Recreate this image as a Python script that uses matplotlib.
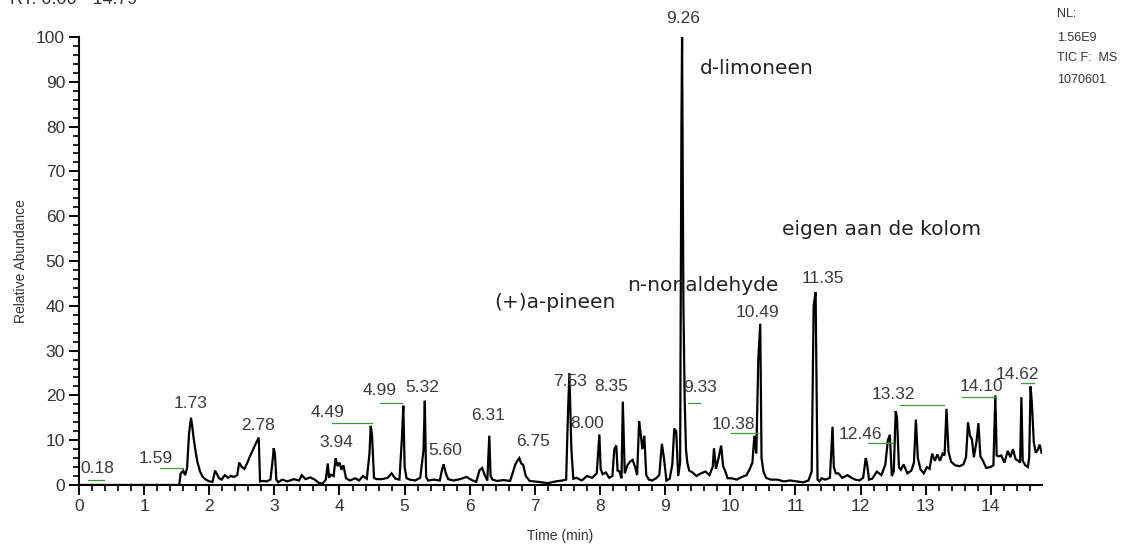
import matplotlib.pyplot as plt
from matplotlib.ticker import MultipleLocator

# TIC trace, retention time (min) vs relative abundance (%)
rt = [
    0.00, 1.54, 1.56, 1.60, 1.63, 1.66, 1.69, 1.72, 1.74, 1.76, 1.79, 1.82,
    1.86, 1.90, 1.95, 2.00, 2.05, 2.09, 2.12, 2.15, 2.19, 2.24, 2.29, 2.33,
    2.38, 2.43, 2.46, 2.50, 2.54, 2.58, 2.62, 2.66, 2.70, 2.74, 2.76, 2.78,
    2.82, 2.88, 2.94, 2.97, 2.99, 3.01, 3.03, 3.06, 3.12, 3.20, 3.30, 3.38,
    3.42, 3.48, 3.55, 3.62, 3.68, 3.74, 3.79, 3.82, 3.84, 3.87, 3.91, 3.94,
    3.97, 4.00, 4.03, 4.06, 4.10, 4.16, 4.24, 4.30, 4.36, 4.42, 4.46, 4.48,
    4.50, 4.53, 4.57, 4.65, 4.74, 4.80, 4.86, 4.92, 4.96, 4.98, 5.00, 5.03,
    5.08, 5.16, 5.24, 5.29, 5.31, 5.33, 5.36, 5.45, 5.54, 5.58, 5.60, 5.63,
    5.67, 5.75, 5.85, 5.95, 6.03, 6.10, 6.15, 6.19, 6.23, 6.27, 6.30, 6.32,
    6.35, 6.42, 6.52, 6.62, 6.67, 6.70, 6.73, 6.76, 6.79, 6.82, 6.86, 6.92,
    7.05, 7.20, 7.32, 7.42, 7.48, 7.51, 7.53, 7.56, 7.59, 7.64, 7.72, 7.80,
    7.88, 7.95, 7.99, 8.01, 8.04, 8.09, 8.14, 8.19, 8.22, 8.25, 8.27, 8.30,
    8.33, 8.35, 8.38, 8.42, 8.46, 8.50, 8.54, 8.57, 8.60, 8.62, 8.65, 8.68,
    8.71, 8.75, 8.80, 8.86, 8.91, 8.95, 8.98, 9.02, 9.07, 9.11, 9.14, 9.17,
    9.20, 9.23, 9.25, 9.26, 9.28, 9.30, 9.32, 9.34, 9.37, 9.42, 9.48, 9.55,
    9.62, 9.68, 9.73, 9.75, 9.78, 9.82, 9.86, 9.89, 9.92, 9.96, 10.02, 10.10,
    10.18, 10.25, 10.30, 10.34, 10.37, 10.40, 10.43, 10.46, 10.48, 10.51, 10.55,
    10.62, 10.72, 10.82, 10.92, 11.02, 11.12, 11.20, 11.25, 11.28, 11.31, 11.34,
    11.37, 11.40, 11.46, 11.53, 11.57, 11.59, 11.62, 11.66, 11.72, 11.80, 11.86,
    11.92, 11.98, 12.04, 12.08, 12.10, 12.13, 12.18, 12.25, 12.32, 12.38, 12.42,
    12.45, 12.48, 12.51, 12.54, 12.56, 12.59, 12.62, 12.66, 12.72, 12.78, 12.82,
    12.85, 12.88, 12.92, 12.97, 13.02, 13.06, 13.10, 13.14, 13.18, 13.22, 13.26,
    13.29, 13.32, 13.35, 13.39, 13.45, 13.52, 13.58, 13.62, 13.65, 13.68, 13.71,
    13.74, 13.78, 13.81, 13.84, 13.88, 13.93, 13.99, 14.04, 14.07, 14.09, 14.12,
    14.16, 14.21, 14.26, 14.30, 14.34, 14.38, 14.42, 14.45, 14.47, 14.49, 14.53,
    14.57, 14.59, 14.61, 14.63, 14.66, 14.69, 14.72, 14.75, 14.78,
]
abundance = [
    0.0, 0.0, 2.5, 3.2, 2.2, 3.8, 11.5, 15.0, 13.0, 10.5, 7.5, 5.0,
    3.0, 1.8, 1.2, 0.8, 0.7, 3.2, 2.4, 1.5, 1.2, 2.2, 1.6, 2.0,
    1.8, 2.2, 5.0, 4.0, 3.6, 4.8, 6.2, 7.5, 8.8, 10.0, 10.6, 0.8,
    0.9, 0.8, 1.2, 5.0, 8.2, 6.8, 1.2, 0.6, 1.2, 0.8, 1.3, 1.0,
    2.2, 1.3, 1.7, 1.2, 0.5, 0.3, 1.2, 4.8, 1.6, 2.3, 2.0, 6.0,
    4.2, 5.0, 3.4, 4.4, 1.5, 1.0, 1.5, 1.0, 2.0, 1.4, 7.0, 13.2,
    11.0, 1.6, 1.3, 1.3, 1.6, 2.6, 1.4, 1.2, 10.8, 17.7, 4.0, 1.5,
    1.2, 1.0, 1.6, 7.8, 18.8, 1.8, 1.0, 1.2, 1.0, 3.8, 4.6, 2.7,
    1.3, 1.0, 1.3, 1.8, 1.1, 0.7, 3.3, 3.8, 2.2, 1.0, 11.0, 2.0,
    1.2, 0.9, 1.1, 0.9, 3.2, 4.6, 5.4, 6.0, 4.8, 4.5, 2.0, 0.9,
    0.7, 0.4, 0.8, 1.0, 1.2, 17.0, 25.0, 8.0, 1.4, 1.6, 1.0, 2.0,
    1.6, 2.6, 11.3, 3.6, 2.4, 2.8, 1.6, 2.0, 8.0, 8.8, 3.2, 3.0,
    1.5, 18.6, 2.6, 4.4, 5.2, 5.6, 4.0, 2.2, 14.2, 12.0, 8.0, 11.0,
    2.2, 1.2, 1.0, 1.5, 2.2, 9.2, 6.2, 1.0, 1.4, 4.6, 12.6, 12.0,
    2.0, 5.0, 80.0, 100.0, 41.0, 19.0, 8.0, 5.0, 3.2, 2.8, 2.0, 2.6,
    3.0, 2.2, 4.0, 8.2, 3.6, 6.0, 8.8, 4.2, 3.2, 1.5, 1.5, 1.2,
    1.8, 2.2, 3.6, 5.0, 11.0, 7.0, 28.0, 36.0, 6.0, 3.0, 1.6,
    1.2, 1.2, 0.8, 1.0, 0.8, 0.6, 1.0, 3.0, 40.0, 43.0, 1.2,
    0.8, 1.5, 1.2, 1.6, 13.0, 4.0, 2.6, 2.6, 1.6, 2.2, 1.6,
    1.2, 1.0, 1.6, 6.0, 4.8, 1.2, 1.4, 3.0, 2.2, 4.5, 10.0,
    11.2, 2.0, 3.0, 16.5, 15.0, 4.0, 3.4, 4.6, 2.6, 3.2, 5.0,
    14.6, 6.0, 3.5, 2.6, 4.0, 3.6, 7.0, 5.4, 6.8, 5.4, 7.0,
    6.6, 17.0, 7.5, 5.2, 4.4, 4.2, 4.6, 6.2, 14.0, 11.0, 10.2,
    6.2, 9.6, 13.8, 6.4, 5.4, 3.8, 4.0, 4.4, 20.0, 6.6, 6.4,
    6.6, 5.0, 7.6, 6.2, 8.0, 5.8, 5.4, 5.0, 19.6, 5.4, 4.4,
    4.0, 6.2, 22.0, 18.5, 9.6, 7.2, 7.8, 9.0, 7.2,
]

# peak labels: text, (rt, abundance) where the label sits
peak_labels = ["0.18", "1.59", "1.73", "2.78", "3.94", "4.49", "4.99", "5.32",
               "5.60", "6.31", "6.75", "7.53", "8.00", "8.35", "9.26", "9.33",
               "10.38", "10.49", "11.35", "12.46", "13.32", "14.10", "14.62"]
label_rt = [0.28, 1.18, 1.72, 2.75, 3.95, 3.81, 4.61, 5.27,
            5.62, 6.28, 6.97, 7.54, 7.80, 8.17, 9.27, 9.53,
            10.04, 10.41, 11.42, 11.99, 12.50, 13.86, 14.41]
label_y = [3.6, 6.0, 18.3, 13.2, 9.4, 16.1, 21.2, 21.7,
           7.6, 15.6, 9.6, 23.2, 13.8, 21.9, 104.2, 21.7,
           13.4, 38.6, 46.2, 11.2, 20.1, 21.9, 24.6]

# green connector lines under some of the labels: (rt start, rt end, abundance)
connector_start = [0.14, 1.24, 3.88, 4.62, 9.35, 10.01, 12.11, 12.60, 13.56, 14.46]
connector_end = [0.38, 1.60, 4.50, 4.96, 9.53, 10.42, 12.50, 13.28, 14.08, 14.66]
connector_y = [1.1, 3.8, 13.8, 18.3, 18.3, 11.6, 9.4, 17.9, 19.6, 22.8]

# compound names
compounds = ["d-limoneen", "(+)a-pineen", "n-nonaldehyde", "eigen aan de kolom"]
compound_rt = [9.54, 6.37, 8.42, 10.80]
compound_y = [93.0, 40.8, 44.6, 57.0]

fig = plt.figure(figsize=(11.33, 5.49), dpi=100)
ax = fig.add_axes([0.0697, 0.1166, 0.8502, 0.816])

ax.plot(rt, abundance, color="black", lw=1.6, solid_joinstyle="miter")

for txt, x, y in zip(peak_labels, label_rt, label_y):
    ax.text(x, y, txt, ha="center", va="center", fontsize=12.5,
            family="Liberation Sans", color="#3a3a3a", clip_on=False)

for x0, x1, y in zip(connector_start, connector_end, connector_y):
    ax.plot([x0, x1], [y, y], color="#3c9a3c", lw=0.9)

for txt, x, y in zip(compounds, compound_rt, compound_y):
    ax.text(x, y, txt, ha="left", va="center", fontsize=14.5,
            family="DejaVu Sans", color="#222222")

ax.set_xlim(0, 14.79)
ax.set_ylim(0, 100)
ax.xaxis.set_major_locator(MultipleLocator(1))
ax.xaxis.set_minor_locator(MultipleLocator(0.2))
ax.yaxis.set_major_locator(MultipleLocator(10))
ax.yaxis.set_minor_locator(MultipleLocator(2))
ax.tick_params(which="major", length=7, width=1.4, direction="out",
               labelsize=12.5, labelcolor="#333333", pad=3)
ax.tick_params(which="minor", length=4.5, width=1.2, direction="out")
for lab in ax.get_xticklabels() + ax.get_yticklabels():
    lab.set_family("Liberation Sans")

for side in ("top", "right"):
    ax.spines[side].set_visible(False)
for side in ("left", "bottom"):
    ax.spines[side].set_linewidth(1.5)

ax.set_xlabel("Time (min)", fontsize=10, family="Liberation Sans",
              color="#333333", labelpad=11)
ax.set_ylabel("Relative Abundance", fontsize=10, family="Liberation Sans",
              color="#333333", labelpad=6)

fig.text(0.009, 0.993, "RT: 0.00 - 14.79", fontsize=13, family="Liberation Sans",
         color="#333333", va="baseline")

info = ["NL:", "1.56E9", "TIC F:  MS", "1070601"]
info_y = [0.974, 0.931, 0.894, 0.854]
for txt, y in zip(info, info_y):
    fig.text(0.933, y, txt, fontsize=9, family="Liberation Sans",
             color="#333333", va="center")

fig.savefig("out.png", dpi=100, facecolor="white")
